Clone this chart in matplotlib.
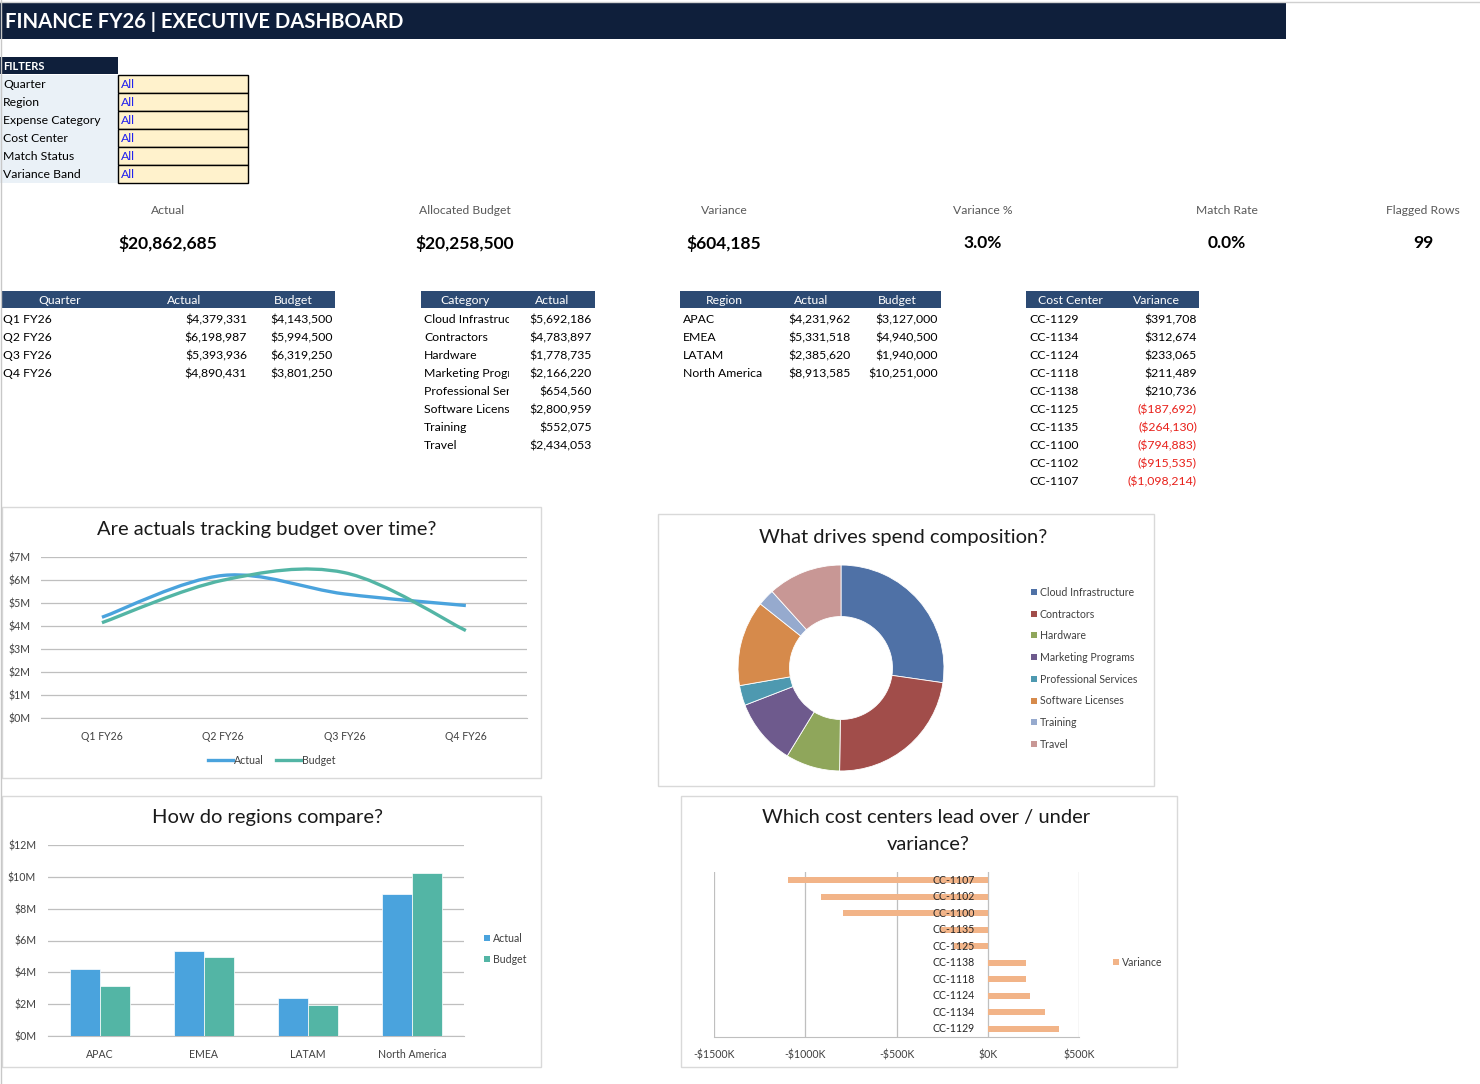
import matplotlib
matplotlib.use('Agg')
import matplotlib.pyplot as plt
from matplotlib.patches import Rectangle, PathPatch
from matplotlib.path import Path
from matplotlib.transforms import offset_copy
import numpy as np

# ---------------- data ----------------
quarters = ['Q1 FY26', 'Q2 FY26', 'Q3 FY26', 'Q4 FY26']
q_actual = [4379331, 6198987, 5393936, 4890431]
q_budget = [4143500, 5994500, 6319250, 3801250]

categories = ['Cloud Infrastructure', 'Contractors', 'Hardware', 'Marketing Programs',
              'Professional Services', 'Software Licenses', 'Training', 'Travel']
cat_actual = [5692186, 4783897, 1778735, 2166220, 654560, 2800959, 552075, 2434053]

regions = ['APAC', 'EMEA', 'LATAM', 'North America']
reg_actual = [4231962, 5331518, 2385620, 8913585]
reg_budget = [3127000, 4940500, 1940000, 10251000]

cost_centers = ['CC-1129', 'CC-1134', 'CC-1124', 'CC-1118', 'CC-1138',
                'CC-1125', 'CC-1135', 'CC-1100', 'CC-1102', 'CC-1107']
cc_variance = [391708, 312674, 233065, 211489, 210736,
               -187692, -264130, -794883, -915535, -1098214]

filter_names = ['Quarter', 'Region', 'Expense Category', 'Cost Center', 'Match Status', 'Variance Band']
filter_values = ['All', 'All', 'All', 'All', 'All', 'All']

kpi_labels = ['Actual', 'Allocated Budget', 'Variance', 'Variance %', 'Match Rate', 'Flagged Rows']
match_rate = 0.0
flagged_rows = 99

# ---------------- style ----------------
W, H = 1480, 1084
plt.rcParams['font.family'] = ['Lato', 'DejaVu Sans']
NAVY = '#0F1F3B'
THEAD = '#2C4A73'
BLUE = '#4AA3DD'
TEAL = '#53B5A5'
ORANGE = '#F2B488'
GRID = '#BFBFBF'
TICK = '#404040'
DONUT = ['#4F71A6', '#A14D4A', '#8FA65B', '#6E5A8D', '#4E99B0', '#D68A4B', '#96AACE', '#C89795']
FS = 8.8

fig = plt.figure(figsize=(W / 100, H / 100), dpi=100)
base = fig.add_axes([0, 0, 1, 1])
base.set_xlim(0, W)
base.set_ylim(H, 0)
base.axis('off')


def rect_px(x0, y0, x1, y1):
    return [x0 / W, 1 - y1 / H, (x1 - x0) / W, (y1 - y0) / H]


def money(v):
    return f"${v:,.0f}" if v >= 0 else f"(${-v:,.0f})"


# sheet edges
base.plot([0, W], [2, 2], color='#D0D0D0', lw=1)
base.plot([1, 1], [0, H], color='#C8C8C8', lw=1)

# ---------------- header ----------------
base.add_patch(Rectangle((0, 3), 1286, 36, fc=NAVY, ec='none'))
base.text(5, 22, 'FINANCE FY26 | EXECUTIVE DASHBOARD', color='white', fontsize=14.6,
          fontweight='bold', va='center', ha='left')

# ---------------- filters ----------------
base.add_patch(Rectangle((0, 57), 118, 17, fc=NAVY, ec='none'))
base.text(3, 66, 'FILTERS', color='white', fontsize=8, fontweight='bold', va='center')
for i, (name, val) in enumerate(zip(filter_names, filter_values)):
    y0 = 75 + 18 * i
    base.add_patch(Rectangle((0, y0), 118, 18, fc='#EAF1F7', ec='none'))
    base.add_patch(Rectangle((118, y0), 130, 18, fc='#FFF2CC', ec='black', lw=1))
    base.text(3, y0 + 9.5, name, color='black', fontsize=FS, va='center')
    base.text(121, y0 + 9.5, val, color='#2222EE', fontsize=FS, va='center')

# ---------------- KPIs ----------------
tot_act = sum(q_actual)
tot_bud = sum(q_budget)
var = tot_act - tot_bud
kpi_vals = [money(tot_act), money(tot_bud), money(var), f"{var / tot_bud * 100:.1f}%",
            f"{match_rate:.1f}%", f"{flagged_rows}"]
kpi_x = [168, 465, 724, 983, 1227, 1423]
for lab, val, x in zip(kpi_labels, kpi_vals, kpi_x):
    base.text(x, 211, lab, color='#595959', fontsize=8.7, ha='center', va='center')
    base.text(x, 243, val, color='black', fontsize=12.5, fontweight='bold', ha='center', va='center')


# ---------------- tables ----------------
def table(x0, x1, heads, head_cx, cols, col_specs):
    base.add_patch(Rectangle((x0, 291), x1 - x0, 17, fc=THEAD, ec='none'))
    for h, cx in zip(heads, head_cx):
        base.text(cx, 300, h, color='white', fontsize=FS, ha='center', va='center')
    for col, (al, x, clip, colors) in zip(cols, col_specs):
        for i, s in enumerate(col):
            y = 319 + 18 * i
            t = base.text(x, y + 0.5, s, color=colors[i] if colors else 'black',
                          fontsize=FS, ha=al, va='center', clip_on=True)
            if clip is not None:
                cx0, cx1 = clip
                t.set_clip_path(Rectangle((cx0, y - 9), cx1 - cx0, 18, transform=base.transData))


table(2, 335, ['Quarter', 'Actual', 'Budget'], [60, 184, 293],
      [quarters, [money(v) for v in q_actual], [money(v) for v in q_budget]],
      [('left', 3, None, None), ('right', 247, None, None), ('right', 333, None, None)])

table(421, 595, ['Category', 'Actual'], [465, 552],
      [categories, [money(v) for v in cat_actual]],
      [('left', 424, (421, 509), None), ('right', 592, None, None)])

table(680, 941, ['Region', 'Actual', 'Budget'], [724, 811, 897],
      [regions, [money(v) for v in reg_actual], [money(v) for v in reg_budget]],
      [('left', 683, None, None), ('right', 851, None, None), ('right', 938, None, None)])

table(1026, 1199, ['Cost Center', 'Variance'], [1070, 1156],
      [cost_centers, [money(v) for v in cc_variance]],
      [('left', 1029, None, None),
       ('right', 1197, None, ['black' if v >= 0 else '#E8201A' for v in cc_variance])])

# ---------------- chart frames ----------------
for (x0, y0, x1, y1) in [(2, 507, 541, 778), (658, 514, 1154, 786),
                         (2, 796, 541, 1067), (681, 796, 1177, 1067)]:
    base.add_patch(Rectangle((x0, y0), x1 - x0, y1 - y0, fc='white', ec='#D9D9D9', lw=1))

TITLE_FS = 14.5
TCOL = '#1A1A1A'
base.text(267, 530, 'Are actuals tracking budget over time?', fontsize=TITLE_FS, color=TCOL,
          ha='center', va='center')
base.text(903, 537, 'What drives spend composition?', fontsize=TITLE_FS, color=TCOL,
          ha='center', va='center')
base.text(268, 818, 'How do regions compare?', fontsize=TITLE_FS, color=TCOL,
          ha='center', va='center')
base.text(926, 818, 'Which cost centers lead over / under', fontsize=TITLE_FS, color=TCOL,
          ha='center', va='center')
base.text(928, 844, 'variance?', fontsize=TITLE_FS, color=TCOL, ha='center', va='center')

TFS = 7.6


def style_axes(ax):
    for s in ['top', 'right', 'left']:
        ax.spines[s].set_visible(False)
    ax.spines['bottom'].set_color(GRID)
    ax.set_facecolor('none')
    ax.tick_params(length=0, labelsize=TFS, labelcolor=TICK)


# ---------------- line chart ----------------
def smooth_path(xs, ys):
    pts = np.column_stack([xs, ys]).astype(float)
    n = len(pts)
    verts = [pts[0]]
    codes = [Path.MOVETO]
    for i in range(n - 1):
        p0 = pts[i - 1] if i > 0 else pts[i]
        p1 = pts[i]
        p2 = pts[i + 1]
        p3 = pts[i + 2] if i + 2 < n else pts[i + 1]
        c1 = p1 + (p2 - p0) / 6.0
        c2 = p2 - (p3 - p1) / 6.0
        verts += [c1, c2, p2]
        codes += [Path.CURVE4] * 3
    return Path(verts, codes)


ax1 = fig.add_axes(rect_px(41.3, 557, 526.5, 718))
style_axes(ax1)
ax1.set_xlim(-0.5, len(quarters) - 0.5)
ax1.set_ylim(0, 7e6)
xq = np.arange(len(quarters))
for series, col in [(q_actual, BLUE), (q_budget, TEAL)]:
    ax1.add_patch(PathPatch(smooth_path(xq, series), fill=False, ec=col, lw=2.4,
                            capstyle='butt', zorder=3))
ax1.set_xticks(xq)
ax1.set_xticklabels(quarters)
yt = np.arange(0, 7e6 + 1, 1e6)
ax1.set_yticks(yt)
ax1.set_yticklabels([f"${v / 1e6:.0f}M" for v in yt])
ax1.grid(axis='y', color=GRID, lw=0.9)
ax1.set_axisbelow(True)
ax1.tick_params(axis='y', pad=8)
ax1.tick_params(axis='x', pad=9)

for x, lab, col in [(208, 'Actual', BLUE), (276, 'Budget', TEAL)]:
    base.plot([x, x + 25], [760, 760], color=col, lw=2.4)
    base.text(x + 26, 760.5, lab, fontsize=TFS, color=TICK, va='center')

# ---------------- donut ----------------
ax4 = fig.add_axes(rect_px(737, 564, 945, 772))
ax4.pie(cat_actual, colors=DONUT, startangle=90, counterclock=False, radius=1,
        wedgeprops=dict(width=0.5, edgecolor='white', linewidth=0.6))
ax4.set_xlim(-1.01, 1.01)
ax4.set_ylim(-1.01, 1.01)
ax4.set_aspect('equal')
ax4.axis('off')
for i, (c, col) in enumerate(zip(categories, DONUT)):
    y = 592 + 21.7 * i
    base.add_patch(Rectangle((1031, y - 3), 6, 6, fc=col, ec='none'))
    base.text(1040, y + 0.5, c, fontsize=TFS, color=TICK, va='center')

# ---------------- region bars ----------------
ax2 = fig.add_axes(rect_px(48, 845, 464, 1036))
style_axes(ax2)
xr = np.arange(len(regions))
bw = 0.285
ax2.bar(xr - bw / 2, reg_actual, bw, color=BLUE, ec='white', lw=0.5, zorder=3)
ax2.bar(xr + bw / 2, reg_budget, bw, color=TEAL, ec='white', lw=0.5, zorder=3)
ax2.set_xlim(-0.5, len(regions) - 0.5)
ax2.set_ylim(0, 12e6)
ax2.set_xticks(xr)
ax2.set_xticklabels(regions)
yt2 = np.arange(0, 12e6 + 1, 2e6)
ax2.set_yticks(yt2)
ax2.set_yticklabels([f"${v / 1e6:.0f}M" for v in yt2])
ax2.grid(axis='y', color=GRID, lw=0.9)
ax2.set_axisbelow(True)
ax2.tick_params(axis='y', pad=8.5)
ax2.tick_params(axis='x', pad=9)
for y, lab, col in [(938, 'Actual', BLUE), (959, 'Budget', TEAL)]:
    base.add_patch(Rectangle((484, y - 3), 6, 6, fc=col, ec='none'))
    base.text(493, y + 0.5, lab, fontsize=TFS, color=TICK, va='center')

# ---------------- variance bars ----------------
ax3 = fig.add_axes(rect_px(714.3, 872, 1079, 1037))
ax3.set_facecolor('none')
yc = np.arange(len(cost_centers))
ax3.barh(yc, cc_variance, 0.38, color=ORANGE, zorder=2)
ax3.set_xlim(-1.5e6, 0.5e6)
ax3.set_ylim(-0.5, len(cost_centers) - 0.5)
xt = np.arange(-1.5e6, 0.5e6 + 1, 5e5)
ax3.set_xticks(xt)
ax3.set_xticklabels([(f"-${-v / 1e3:.0f}K" if v < 0 else f"${v / 1e3:.0f}K") for v in xt])
ax3.set_yticks([])
for s in ['top', 'right', 'left']:
    ax3.spines[s].set_visible(False)
ax3.spines['bottom'].set_color(GRID)
ax3.grid(axis='x', color=GRID, lw=0.9)
ax3.set_axisbelow(True)
ax3.tick_params(length=0, labelsize=TFS, labelcolor=TICK)
ax3.tick_params(axis='x', pad=9)
lab_tr = offset_copy(ax3.transData, fig=fig, x=-13, y=0, units='dots')
for i, name in enumerate(cost_centers):
    ax3.text(0, yc[i], name, transform=lab_tr, ha='right', va='center', fontsize=TFS,
             color='#262626', zorder=5, clip_on=False)
base.add_patch(Rectangle((1113, 959), 6, 6, fc=ORANGE, ec='none'))
base.text(1122, 962.5, 'Variance', fontsize=TFS, color=TICK, va='center')

fig.savefig('out.png', dpi=100)
